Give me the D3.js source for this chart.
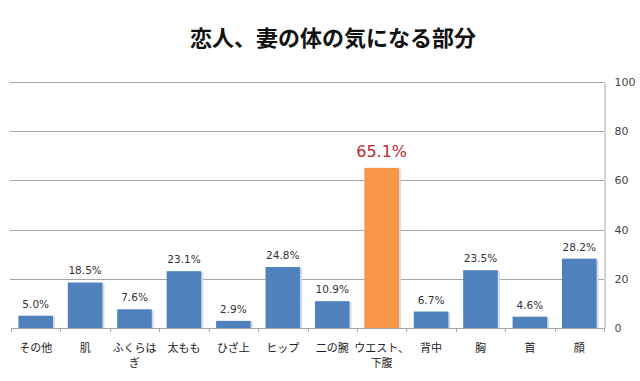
<!DOCTYPE html>
<html><head><meta charset="utf-8">
<script src="https://cdn.jsdelivr.net/npm/d3@7"></script>
<style>body{margin:0;background:#fff}svg{display:block}</style>
</head><body>
<svg id="c" width="640" height="381"></svg>
<script>
const categories = [["その他"],["肌"],["ふくらは","ぎ"],["太もも"],["ひざ上"],["ヒップ"],["二の腕"],["ウエスト、","下腹"],["背中"],["胸"],["首"],["顔"]];
const values = [5.0,18.5,7.6,23.1,2.9,24.8,10.9,65.1,6.7,23.5,4.6,28.2];
const highlight = [false,false,false,false,false,false,false,true,false,false,false,false];
const yTicks = [0,20,40,60,80,100];
const title = "恋人、妻の体の気になる部分";

const svg = d3.select("#c");
const L = 11, R = 604, T = 82, B = 328;
const x = d3.scaleBand().domain(d3.range(values.length)).range([L, R]).paddingInner(0.3).paddingOuter(0.15);
const y = d3.scaleLinear().domain([0,100]).range([B, T]);
const font = "'Noto Sans CJK JP', sans-serif";

svg.append("text").attr("x", 333).attr("y", 46).attr("text-anchor","middle")
  .attr("font-family", font).attr("font-weight","bold").attr("font-size", 22).attr("fill","#111").text(title);

// gridlines
svg.append("g").selectAll("line").data(yTicks.slice(1)).join("line")
  .attr("x1", L-1).attr("x2", R).attr("y1", d=>Math.round(y(d))+0.5).attr("y2", d=>Math.round(y(d))+0.5)
  .attr("stroke","#a6a6a6").attr("stroke-width",1);

// right axis
const ax = svg.append("g").attr("transform", `translate(${R+0.5},0)`)
  .call(d3.axisRight(y).tickValues(yTicks).tickSize(0).tickPadding(10));
ax.select(".domain").attr("stroke","#a6a6a6");
ax.selectAll("text").attr("font-family","'DejaVu Sans', sans-serif").attr("font-size",11).attr("fill","#444");

// bars (with subtle shadow)
const idx = d3.range(values.length);
svg.append("g").selectAll("rect").data(idx).join("rect")
  .attr("x", i=>x(i)+2).attr("y", i=>y(values[i])+1).attr("width", x.bandwidth()).attr("height", i=>B-y(values[i])-1)
  .attr("fill","#d5dbe6");
svg.append("g").selectAll("rect").data(idx).join("rect")
  .attr("x", i=>x(i)).attr("y", i=>y(values[i])).attr("width", x.bandwidth()).attr("height", i=>B-y(values[i]))
  .attr("fill", i=>highlight[i] ? "#f79646" : "#4f81bd");

// baseline with ticks
svg.append("line").attr("x1", L).attr("x2", R).attr("y1", B+0.5).attr("y2", B+0.5).attr("stroke","#a6a6a6");
svg.append("g").selectAll("line").data(d3.range(values.length+1)).join("line")
  .attr("x1", i=>Math.round(L + i*(R-L)/values.length)+0.5).attr("x2", i=>Math.round(L + i*(R-L)/values.length)+0.5)
  .attr("y1", B).attr("y2", B+4).attr("stroke","#a6a6a6");

// value labels
svg.append("g").selectAll("text").data(idx).join("text")
  .attr("x", i=>x(i)+x.bandwidth()/2)
  .attr("y", i=>y(values[i]) - (highlight[i] ? 11 : 8))
  .attr("text-anchor","middle")
  .attr("font-family","'DejaVu Sans', sans-serif")
  .attr("font-size", i=>highlight[i] ? 16 : 10.5)
  .attr("fill", i=>highlight[i] ? "#c0282d" : "#333")
  .text(i=>values[i].toFixed(1)+"%");

// category labels
const cg = svg.append("g").selectAll("text").data(idx).join("text")
  .attr("x", i=>x(i)+x.bandwidth()/2).attr("y", 352).attr("text-anchor","middle")
  .attr("font-family", font).attr("font-size", 11).attr("fill","#222");
cg.selectAll("tspan").data(i=>categories[i]).join("tspan")
  .attr("x", function(){return d3.select(this.parentNode).attr("x");})
  .attr("dy", (d,j)=>j===0?0:15).text(d=>d);
</script>
</body></html>
